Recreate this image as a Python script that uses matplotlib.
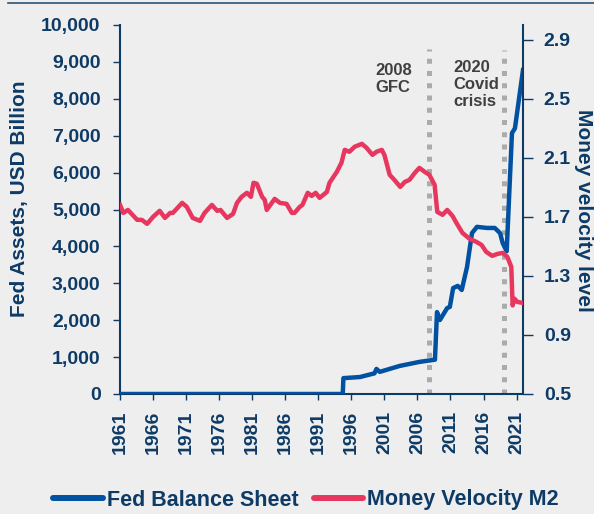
import matplotlib
matplotlib.use('Agg')
import matplotlib.pyplot as plt
from matplotlib.lines import Line2D

# ---------------- data ----------------
fed_years = [1961, 1994.7, 1994.8, 1997.3, 1999.5, 1999.8, 2000.3, 2003.3, 2006.3,
             2008.65, 2008.96, 2009.4, 2010.5, 2010.9, 2011.4, 2012.1, 2012.7,
             2013.5, 2014.25, 2015.0, 2016.5, 2017.7, 2018.5, 2018.9, 2019.5,
             2020.3, 2020.75, 2021.97]
fed_values = [0, 0, 430, 460, 560, 680, 600, 760, 870,
              930, 2220, 2005, 2330, 2360, 2870, 2930, 2820,
              3440, 4360, 4530, 4500, 4500, 4360, 4090, 3870,
              7070, 7200, 8780]

vel_years = [1961.0, 1961.5, 1962.2, 1963.6, 1964.3, 1965.1, 1966.0, 1967.0, 1967.8,
             1968.6, 1969.0, 1970.4, 1971.1, 1972.0, 1973.1, 1973.8, 1974.9, 1975.7,
             1976.2, 1977.2, 1978.1, 1978.7, 1979.4, 1980.2, 1980.8, 1981.2, 1981.7,
             1982.5, 1982.9, 1983.2, 1984.4, 1985.2, 1986.2, 1987.0, 1987.4, 1988.2,
             1988.6, 1989.4, 1990.0, 1990.6, 1991.2, 1992.3, 1992.7, 1993.8, 1994.5,
             1995.0, 1995.7, 1996.5, 1997.6, 1998.3, 1999.2, 1999.8, 2000.6, 2001.0,
             2001.8, 2002.5, 2003.4, 2004.1, 2004.8, 2005.6, 2006.3, 2007.1, 2007.8,
             2008.6, 2009.0, 2009.8, 2010.5, 2011.3, 2011.9, 2012.8, 2013.9, 2014.9,
             2015.7, 2016.4, 2017.3, 2018.1, 2018.9, 2019.6, 2020.2, 2020.4, 2020.7,
             2021.1, 2021.97]
vel_values = [1.781, 1.727, 1.747, 1.680, 1.680, 1.653, 1.700, 1.741, 1.693,
              1.727, 1.727, 1.795, 1.768, 1.693, 1.673, 1.727, 1.781, 1.741,
              1.747, 1.693, 1.720, 1.795, 1.836, 1.863, 1.836, 1.931, 1.924,
              1.836, 1.815, 1.747, 1.822, 1.795, 1.788, 1.727, 1.727, 1.768,
              1.781, 1.863, 1.842, 1.863, 1.829, 1.869, 1.931, 2.005, 2.066,
              2.154, 2.141, 2.175, 2.195, 2.168, 2.120, 2.141, 2.154, 2.120,
              1.985, 1.951, 1.903, 1.937, 1.951, 1.998, 2.032, 2.005, 1.985,
              1.917, 1.734, 1.714, 1.747, 1.707, 1.659, 1.592, 1.551, 1.531,
              1.510, 1.463, 1.436, 1.449, 1.456, 1.429, 1.361, 1.100, 1.145,
              1.124, 1.117]

x_ticks = list(range(1961, 2022, 5))
left_ticks = list(range(0, 10001, 1000))
right_ticks = [0.5, 0.9, 1.3, 1.7, 2.1, 2.5, 2.9]
event_years = [2007.8, 2019.1]
event_labels = ['2008\nGFC', '2020\nCovid\ncrisis']
event_label_x = [1999.7, 2011.4]

# ---------------- style ----------------
NAVY = '#0D3B66'
BLUE = '#0051A2'
RED = '#E8375F'
GREY = '#ABABAB'
BG = '#EEEEEE'

plt.rcParams['font.family'] = ['Liberation Sans', 'DejaVu Sans']
plt.rcParams['font.weight'] = 'bold'

fig = plt.figure(figsize=(5.94, 5.14), dpi=100, facecolor=BG)
ax1 = fig.add_axes([120 / 594, 1 - 394 / 514, (523 - 120) / 594, (394 - 25) / 514])
ax1.set_facecolor(BG)
ax2 = ax1.twinx()

# event lines
for ev, top in zip(event_years, [0.935, 0.932]):
    ax1.axvline(ev, ymin=0, ymax=top, color=GREY, lw=3.6,
                linestyle=(0, (1.0, 1.45)), zorder=1)

ax1.plot(fed_years, fed_values, color=BLUE, lw=3.2, zorder=3,
         solid_joinstyle='round')
ax2.plot(vel_years, vel_values, color=RED, lw=3.2, zorder=3,
         solid_joinstyle='round')

for lx, lab, yf in zip(event_label_x, event_labels, [0.897, 0.905]):
    ax1.text(lx, yf, lab, transform=ax1.get_xaxis_transform(), ha='left',
             va='top', fontsize=12, fontweight='bold', color='#404040',
             linespacing=1.15)

ax1.set_xlim(1961, 2021.97)
ax1.set_ylim(0, 10000)
ax2.set_ylim(0.5, 3.0)

ax1.set_xticks(x_ticks)
ax1.set_xticklabels([str(t) for t in x_ticks], rotation=90, fontsize=14,
                    fontweight='bold', color=NAVY)
ax1.set_yticks(left_ticks)
ax1.set_yticklabels([f'{t:,}' for t in left_ticks], fontsize=14,
                    fontweight='bold', color=NAVY)
ax2.set_yticks(right_ticks)
ax2.set_yticklabels([f'{t:.1f}' for t in right_ticks], fontsize=14,
                    fontweight='bold', color=NAVY)

ax1.tick_params(axis='x', direction='out', length=4, width=1, color=NAVY, pad=8)
ax1.tick_params(axis='y', direction='out', length=5, width=1, color=NAVY, pad=9)
ax2.tick_params(axis='y', direction='out', length=7, width=1, color=NAVY, pad=8)

for sp in ['top', 'right']:
    ax1.spines[sp].set_visible(False)
for sp in ['top', 'left', 'bottom']:
    ax2.spines[sp].set_visible(False)
for sp in ['left', 'bottom']:
    ax1.spines[sp].set_color(NAVY)
    ax1.spines[sp].set_linewidth(1.5)
ax2.spines['right'].set_color(NAVY)
ax2.spines['right'].set_linewidth(1.5)

fig.text(20 / 594, 1 - 199 / 514, 'Fed Assets, USD Billion', rotation=90,
         ha='center', va='center', fontsize=15, fontweight='bold', color=NAVY)
fig.text(584 / 594, 1 - 210 / 514, 'Money velocity level', rotation=-90,
         ha='center', va='center', fontsize=15, fontweight='bold', color=NAVY)

# top rule
fig.add_artist(Line2D([8 / 594, 1.0], [1 - 3 / 514, 1 - 3 / 514],
                      transform=fig.transFigure, color='#2F5370', lw=1.2))

handles = [Line2D([], [], color=BLUE, lw=4.3, solid_capstyle='round'),
           Line2D([], [], color=RED, lw=4.3, solid_capstyle='round')]
leg = fig.legend(handles, ['Fed Balance Sheet', 'Money Velocity M2'],
                 loc='center', bbox_to_anchor=(306 / 594, 1 - 500 / 514),
                 ncol=2, frameon=False, handlelength=2.3, handletextpad=0.2,
                 columnspacing=0.7, borderaxespad=0,
                 prop={'size': 15.5, 'weight': 'bold'})
for t in leg.get_texts():
    t.set_color(NAVY)

fig.savefig('out.png', dpi=100, facecolor=BG)
